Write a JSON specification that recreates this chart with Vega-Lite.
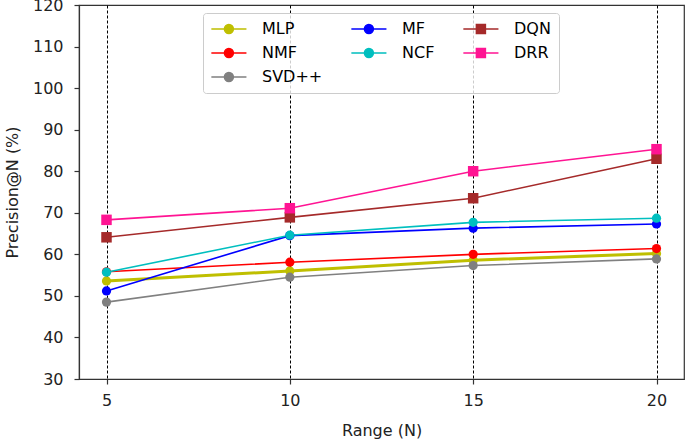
{
  "$schema": "https://vega.github.io/schema/vega-lite/v6.json",
  "width": 605,
  "height": 374,
  "autosize": {"type": "none"},
  "padding": {"left": 79, "top": 5, "right": 1, "bottom": 64},
  "background": "white",
  "data": {
    "values": [
      {"model": "MLP", "n": 5, "precision": 53.6},
      {"model": "MLP", "n": 10, "precision": 56.0},
      {"model": "MLP", "n": 15, "precision": 58.6},
      {"model": "MLP", "n": 20, "precision": 60.2},
      {"model": "NMF", "n": 5, "precision": 55.8},
      {"model": "NMF", "n": 10, "precision": 58.1},
      {"model": "NMF", "n": 15, "precision": 60.0},
      {"model": "NMF", "n": 20, "precision": 61.4},
      {"model": "SVD++", "n": 5, "precision": 48.5},
      {"model": "SVD++", "n": 10, "precision": 54.5},
      {"model": "SVD++", "n": 15, "precision": 57.3},
      {"model": "SVD++", "n": 20, "precision": 58.9},
      {"model": "MF", "n": 5, "precision": 51.2},
      {"model": "MF", "n": 10, "precision": 64.5},
      {"model": "MF", "n": 15, "precision": 66.3},
      {"model": "MF", "n": 20, "precision": 67.3},
      {"model": "NCF", "n": 5, "precision": 55.7},
      {"model": "NCF", "n": 10, "precision": 64.6},
      {"model": "NCF", "n": 15, "precision": 67.7},
      {"model": "NCF", "n": 20, "precision": 68.7},
      {"model": "DQN", "n": 5, "precision": 64.1},
      {"model": "DQN", "n": 10, "precision": 68.9},
      {"model": "DQN", "n": 15, "precision": 73.5},
      {"model": "DQN", "n": 20, "precision": 83.0},
      {"model": "DRR", "n": 5, "precision": 68.3},
      {"model": "DRR", "n": 10, "precision": 71.1},
      {"model": "DRR", "n": 15, "precision": 80.0},
      {"model": "DRR", "n": 20, "precision": 85.3}
    ]
  },
  "encoding": {
    "x": {
      "field": "n",
      "type": "quantitative",
      "title": "Range (N)",
      "scale": {"domain": [4.25, 20.75], "nice": false, "zero": false},
      "axis": {
        "values": [5, 10, 15, 20],
        "grid": true,
        "gridColor": "black",
        "gridDash": [3, 2],
        "gridWidth": 1,
        "gridOpacity": 1,
        "labelPadding": 8,
        "titlePadding": 14
      }
    },
    "y": {
      "field": "precision",
      "type": "quantitative",
      "title": "Precision@N (%)",
      "scale": {"domain": [30, 120], "nice": false, "zero": false},
      "axis": {
        "values": [30, 40, 50, 60, 70, 80, 90, 100, 110, 120],
        "grid": false,
        "labelPadding": 11,
        "titlePadding": 12
      }
    }
  },
  "layer": [
    {
      "transform": [{"filter": "datum.model == 'MLP'"}],
      "mark": {"type": "line", "strokeWidth": 3, "color": "#bfbf00"},
      "encoding": {}
    },
    {
      "transform": [{"filter": "datum.model != 'MLP'"}],
      "mark": {"type": "line", "strokeWidth": 1.6},
      "encoding": {
        "color": {
          "field": "model",
          "scale": {
            "domain": ["MLP", "NMF", "SVD++", "MF", "NCF", "DQN", "DRR"],
            "range": ["#bfbf00", "#ff0000", "#808080", "#0000ff", "#00bfbf", "#a52a2a", "#ff1493"]
          },
          "legend": null
        }
      }
    },
    {
      "transform": [{"filter": "datum.model != 'DQN' && datum.model != 'DRR'"}],
      "mark": {"type": "point", "shape": "circle", "filled": true, "opacity": 1, "size": 85},
      "encoding": {
        "color": {"field": "model", "legend": null}
      }
    },
    {
      "transform": [{"filter": "datum.model == 'DQN' || datum.model == 'DRR'"}],
      "mark": {"type": "point", "shape": "square", "filled": true, "opacity": 1, "size": 110},
      "encoding": {
        "color": {"field": "model", "legend": null}
      }
    },
    {
      "transform": [{"filter": "datum.n == 20"}],
      "mark": {"type": "point", "filled": true, "opacity": 1, "size": 0, "strokeWidth": 1.5},
      "encoding": {
        "fill": {
          "field": "model",
          "scale": {
            "domain": ["MLP", "MF", "DQN", "NMF", "NCF", "DRR", "SVD++"],
            "range": ["#bfbf00", "#0000ff", "#a52a2a", "#ff0000", "#00bfbf", "#ff1493", "#808080"]
          },
          "legend": {
            "title": null,
            "values": ["MLP", "NMF", "DRR", "MF", "NCF", "SVD++", "DQN"],
            "orient": "none",
            "legendX": 124,
            "legendY": 8,
            "columns": 3,
            "columnPadding": 25,
            "rowPadding": 8,
            "padding": 8,
            "symbolSize": 81,
            "symbolStrokeWidth": 1.5,
            "labelOffset": 35,
            "labelFontSize": 16,
            "labelFont": "DejaVu Sans",
            "labelColor": "black",
            "strokeColor": "#cccccc",
            "fillColor": "rgba(255,255,255,0.8)",
            "cornerRadius": 3
          }
        },
        "stroke": {
          "field": "model",
          "scale": {
            "domain": ["MLP", "MF", "DQN", "NMF", "NCF", "DRR", "SVD++"],
            "range": ["#bfbf00", "#0000ff", "#a52a2a", "#ff0000", "#00bfbf", "#ff1493", "#808080"]
          }
        },
        "shape": {
          "field": "model",
          "scale": {
            "domain": ["MLP", "MF", "DQN", "NMF", "NCF", "DRR", "SVD++"],
            "range": [
              "M-1.7,0H6.1M3.2,0A1,1,0,1,1,1.2,0A1,1,0,1,1,3.2,0Z",
              "M-1.7,0H6.1M3.2,0A1,1,0,1,1,1.2,0A1,1,0,1,1,3.2,0Z",
              "M-1.7,0H6.1M1.2,-1H3.2V1H1.2Z",
              "M-1.7,0H6.1M3.2,0A1,1,0,1,1,1.2,0A1,1,0,1,1,3.2,0Z",
              "M-1.7,0H6.1M3.2,0A1,1,0,1,1,1.2,0A1,1,0,1,1,3.2,0Z",
              "M-1.7,0H6.1M1.2,-1H3.2V1H1.2Z",
              "M-1.7,0H6.1M3.2,0A1,1,0,1,1,1.2,0A1,1,0,1,1,3.2,0Z"
            ]
          }
        }
      }
    }
  ],
  "config": {
    "font": "DejaVu Sans",
    "view": {"stroke": "#333333", "strokeWidth": 1.2},
    "axis": {
      "domainColor": "#333333",
      "domainWidth": 1.2,
      "tickColor": "#333333",
      "tickSize": 5,
      "tickWidth": 1.2,
      "labelFont": "DejaVu Sans",
      "labelFontSize": 16,
      "labelColor": "#222222",
      "titleFont": "DejaVu Sans",
      "titleFontSize": 16,
      "titleFontWeight": "normal",
      "titleColor": "#222222"
    }
  }
}
